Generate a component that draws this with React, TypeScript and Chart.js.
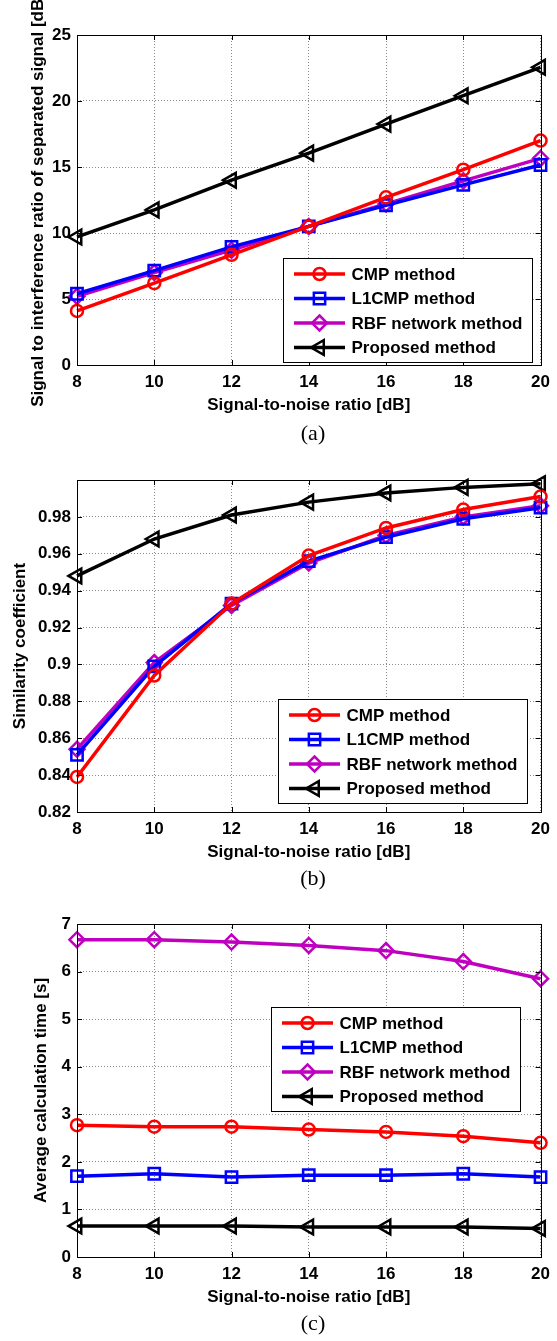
import React, { useEffect, useRef } from 'react';
import { Chart, registerables } from 'chart.js';

Chart.register(...registerables);

// ---------------- data ----------------
const SNR = [8, 10, 12, 14, 16, 18, 20];
const X_TICKS = [8, 10, 12, 14, 16, 18, 20];
const SERIES_NAMES = ['CMP method', 'L1CMP method', 'RBF network method', 'Proposed method'];
const X_TITLE = 'Signal-to-noise ratio [dB]';

// (a) signal to interference ratio
const SIR_CMP = [4.1, 6.2, 8.35, 10.5, 12.7, 14.8, 17.0];
const SIR_L1CMP = [5.4, 7.15, 8.95, 10.5, 12.1, 13.65, 15.15];
const SIR_RBF = [5.2, 7.0, 8.7, 10.5, 12.2, 13.95, 15.65];
const SIR_PROPOSED = [9.7, 11.75, 14.0, 16.05, 18.25, 20.4, 22.55];
const SIR_Y_TICKS = [0, 5, 10, 15, 20, 25];

// (b) similarity coefficient
const SIM_CMP = [0.839, 0.894, 0.933, 0.959, 0.974, 0.984, 0.991];
const SIM_L1CMP = [0.851, 0.899, 0.933, 0.956, 0.969, 0.979, 0.985];
const SIM_RBF = [0.854, 0.901, 0.932, 0.955, 0.97, 0.98, 0.986];
const SIM_PROPOSED = [0.948, 0.968, 0.981, 0.988, 0.993, 0.996, 0.998];
const SIM_Y_TICKS = [0.82, 0.84, 0.86, 0.88, 0.9, 0.92, 0.94, 0.96, 0.98];

// (c) average calculation time
const TIME_CMP = [2.77, 2.74, 2.74, 2.68, 2.63, 2.54, 2.4];
const TIME_L1CMP = [1.7, 1.75, 1.68, 1.72, 1.72, 1.75, 1.68];
const TIME_RBF = [6.67, 6.67, 6.62, 6.55, 6.44, 6.21, 5.85];
const TIME_PROPOSED = [0.65, 0.65, 0.65, 0.63, 0.63, 0.63, 0.6];
const TIME_Y_TICKS = [0, 1, 2, 3, 4, 5, 6, 7];

// ---------------- styles ----------------
const FONT_FAMILY = '"Liberation Sans", Arial, sans-serif';
const TEXT_FONT = { family: FONT_FAMILY, size: 17, weight: 'bold' as const };
const STYLES = [
  { color: '#ff0000', marker: 'circle', radius: 6, rotation: 0 },
  { color: '#0000ff', marker: 'rect', radius: 8, rotation: 0 },
  { color: '#bf00bf', marker: 'rectRot', radius: 7.5, rotation: 0 },
  { color: '#000000', marker: 'triangle', radius: 8.5, rotation: -90 },
];
const LINE_W = 3.5;
const MARKER_W = 2.5;

function drawMarker(ctx: CanvasRenderingContext2D, kind: string, x: number, y: number, r: number, rotDeg: number) {
  ctx.beginPath();
  if (kind === 'circle') {
    ctx.arc(x, y, r, 0, Math.PI * 2);
  } else if (kind === 'rect') {
    const s = Math.SQRT1_2 * r;
    ctx.rect(x - s, y - s, 2 * s, 2 * s);
  } else if (kind === 'rectRot') {
    ctx.moveTo(x, y - r);
    ctx.lineTo(x + r, y);
    ctx.lineTo(x, y + r);
    ctx.lineTo(x - r, y);
    ctx.closePath();
  } else if (kind === 'triangle') {
    let rad = (rotDeg * Math.PI) / 180;
    ctx.moveTo(x + Math.sin(rad) * r, y - Math.cos(rad) * r);
    rad += (2 * Math.PI) / 3;
    ctx.lineTo(x + Math.sin(rad) * r, y - Math.cos(rad) * r);
    rad += (2 * Math.PI) / 3;
    ctx.lineTo(x + Math.sin(rad) * r, y - Math.cos(rad) * r);
    ctx.closePath();
  }
  ctx.stroke();
}

const framePlugin = {
  id: 'matlabFrame',
  afterDatasetsDraw(chart: any) {
    const { ctx, chartArea, scales } = chart;
    const { left, right, top, bottom } = chartArea;
    ctx.save();
    ctx.strokeStyle = '#000';
    ctx.lineWidth = 1;
    ctx.strokeRect(Math.round(left) + 0.5, Math.round(top) + 0.5, Math.round(right - left), Math.round(bottom - top));
    const tl = 5;
    ctx.beginPath();
    scales.x.ticks.forEach((t: any) => {
      const px = Math.round(scales.x.getPixelForValue(t.value)) + 0.5;
      ctx.moveTo(px, bottom);
      ctx.lineTo(px, bottom - tl);
      ctx.moveTo(px, top);
      ctx.lineTo(px, top + tl);
    });
    scales.y.ticks.forEach((t: any) => {
      const py = Math.round(scales.y.getPixelForValue(t.value)) + 0.5;
      ctx.moveTo(left, py);
      ctx.lineTo(left + tl, py);
      ctx.moveTo(right, py);
      ctx.lineTo(right - tl, py);
    });
    ctx.stroke();
    ctx.restore();
  },
};

const boxLegendPlugin = {
  id: 'boxLegend',
  afterDraw(chart: any, _args: any, opts: any) {
    const { ctx, chartArea } = chart;
    const w = opts.width;
    const h = opts.height;
    const right = Math.round(chartArea.right - opts.rightGap);
    const bottom = Math.round(chartArea.bottom - opts.bottomGap);
    const left = right - w;
    const top = bottom - h;
    ctx.save();
    ctx.fillStyle = '#fff';
    ctx.fillRect(left, top, w, h);
    ctx.strokeStyle = '#000';
    ctx.lineWidth = 1;
    ctx.strokeRect(left + 0.5, top + 0.5, w, h);
    chart.data.datasets.forEach((ds: any, i: number) => {
      const st = STYLES[i];
      const y = top + 16 + i * 24.5;
      ctx.strokeStyle = st.color;
      ctx.lineWidth = LINE_W;
      ctx.beginPath();
      ctx.moveTo(left + 11, y);
      ctx.lineTo(left + 62, y);
      ctx.stroke();
      ctx.lineWidth = MARKER_W;
      drawMarker(ctx, st.marker, left + 36.5, y, st.radius, st.rotation);
      ctx.fillStyle = '#000';
      ctx.font = `bold 17px ${FONT_FAMILY}`;
      ctx.textBaseline = 'middle';
      ctx.textAlign = 'left';
      ctx.fillText(ds.label, left + 68.5, y + 1);
    });
    ctx.restore();
  },
};

type PanelProps = {
  top: number;
  height: number;
  plotTop: number;
  plotBottom: number;
  yMin: number;
  yMax: number;
  yTicks: number[];
  yTitle: string;
  yTitleX: number;
  series: number[][];
  legendRightGap: number;
  legendBottomGap: number;
};

const PLOT_LEFT = 77;
const PLOT_RIGHT = 541;
const CANVAS_W = 557;

function Panel(p: PanelProps) {
  const ref = useRef<HTMLCanvasElement | null>(null);
  useEffect(() => {
    if (!ref.current) return;
    const xAxisH = 60;
    const chart = new Chart(ref.current, {
      type: 'line',
      data: {
        datasets: p.series.map((vals, i) => ({
          label: SERIES_NAMES[i],
          data: SNR.map((x, j) => ({ x, y: vals[j] })),
          borderColor: STYLES[i].color,
          backgroundColor: STYLES[i].color,
          borderWidth: LINE_W,
          pointStyle: STYLES[i].marker as any,
          pointRadius: STYLES[i].radius,
          pointRotation: STYLES[i].rotation,
          pointBorderWidth: MARKER_W,
          pointBorderColor: STYLES[i].color,
          pointBackgroundColor: 'rgba(0,0,0,0)',
          tension: 0,
          fill: false,
          clip: false as any,
        })),
      },
      options: {
        animation: false,
        responsive: false,
        devicePixelRatio: 1,
        events: [],
        layout: {
          padding: {
            left: 0,
            top: p.plotTop,
            right: CANVAS_W - PLOT_RIGHT,
            bottom: p.height - p.plotBottom - xAxisH,
          },
        },
        plugins: {
          legend: { display: false },
          tooltip: { enabled: false },
          boxLegend: {
            rightGap: p.legendRightGap,
            bottomGap: p.legendBottomGap,
            width: 249,
            height: 104,
          },
        } as any,
        scales: {
          x: {
            type: 'linear',
            min: 8,
            max: 20,
            afterBuildTicks: (s: any) => {
              s.ticks = X_TICKS.map((v) => ({ value: v }));
            },
            afterFit: (s: any) => {
              s.height = xAxisH;
            },
            grid: { color: '#8a8a8a', lineWidth: 1, drawTicks: false },
            border: { display: false, dash: [1, 2] },
            ticks: {
              padding: 7,
              color: '#000',
              font: TEXT_FONT,
              maxRotation: 0,
              autoSkip: false,
              callback: (v: any) => String(v),
            },
            title: {
              display: true,
              text: X_TITLE,
              color: '#000',
              font: TEXT_FONT,
              padding: { top: 0, bottom: 9.8 },
            },
          },
          y: {
            type: 'linear',
            min: p.yMin,
            max: p.yMax,
            afterBuildTicks: (s: any) => {
              s.ticks = p.yTicks.map((v) => ({ value: v }));
            },
            afterFit: (s: any) => {
              s.width = PLOT_LEFT;
            },
            grid: { color: '#8a8a8a', lineWidth: 1, drawTicks: false },
            border: { display: false, dash: [1, 2] },
            ticks: {
              padding: 6,
              color: '#000',
              font: TEXT_FONT,
              autoSkip: false,
              callback: (v: any) => String(v),
            },
            title: {
              display: true,
              text: p.yTitle,
              color: '#000',
              font: TEXT_FONT,
              padding: { top: p.yTitleX - 10.2, bottom: 0 },
            },
          },
        },
      },
      plugins: [framePlugin, boxLegendPlugin],
    });
    return () => chart.destroy();
  }, []);
  return (
    <canvas
      ref={ref}
      width={CANVAS_W}
      height={p.height}
      style={{ position: 'absolute', left: 0, top: p.top, width: CANVAS_W, height: p.height }}
    />
  );
}

function Caption({ text, y }: { text: string; y: number }) {
  return (
    <div
      style={{
        position: 'absolute',
        left: 313,
        top: y,
        transform: 'translate(-50%, -50%)',
        fontFamily: '"Liberation Serif", "Times New Roman", serif',
        fontSize: 22,
        lineHeight: 1,
        color: '#000',
        whiteSpace: 'nowrap',
      }}
    >
      {text}
    </div>
  );
}

export default function App() {
  return (
    <div style={{ position: 'absolute', left: 0, top: 0, width: 557, height: 1341, background: '#fff', overflow: 'hidden' }}>
      <Panel
        top={0}
        height={445}
        plotTop={35}
        plotBottom={365}
        yMin={0}
        yMax={25}
        yTicks={SIR_Y_TICKS}
        yTitle="Signal to interference ratio of separated signal [dB]"
        yTitleX={38}
        series={[SIR_CMP, SIR_L1CMP, SIR_RBF, SIR_PROPOSED]}
        legendRightGap={9}
        legendBottomGap={3}
      />
      <Caption text="(a)" y={433} />
      <Panel
        top={445}
        height={444}
        plotTop={35}
        plotBottom={367}
        yMin={0.82}
        yMax={1.0}
        yTicks={SIM_Y_TICKS}
        yTitle="Similarity coefficient"
        yTitleX={20}
        series={[SIM_CMP, SIM_L1CMP, SIM_RBF, SIM_PROPOSED]}
        legendRightGap={14}
        legendBottomGap={9}
      />
      <Caption text="(b)" y={878} />
      <Panel
        top={889}
        height={452}
        plotTop={35}
        plotBottom={368}
        yMin={0}
        yMax={7}
        yTicks={TIME_Y_TICKS}
        yTitle="Average calculation time [s]"
        yTitleX={41}
        series={[TIME_CMP, TIME_L1CMP, TIME_RBF, TIME_PROPOSED]}
        legendRightGap={21}
        legendBottomGap={146}
      />
      <Caption text="(c)" y={1323} />
    </div>
  );
}
